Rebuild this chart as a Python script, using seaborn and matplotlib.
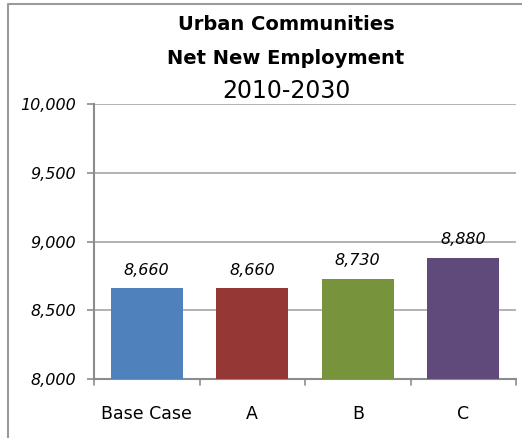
import matplotlib
matplotlib.use("Agg")
import matplotlib.pyplot as plt
import seaborn as sns
import pandas as pd

scenarios = ["Base Case", "A", "B", "C"]
employment = [8660, 8660, 8730, 8880]
bar_colors = ["#4F81BD", "#953735", "#77933C", "#604A7B"]
y_ticks = [8000, 8500, 9000, 9500, 10000]

df = pd.DataFrame({"scenario": scenarios, "employment": employment})

sns.set_theme(style="white")
plt.rcParams["font.family"] = ["DejaVu Sans"]
plt.rcParams["text.color"] = "black"
plt.rcParams["xtick.color"] = "black"
plt.rcParams["ytick.color"] = "black"

W, H = 522, 438
fig = plt.figure(figsize=(W / 100, H / 100), dpi=100)
ax_h = 379 - 104
ax = fig.add_axes([94 / W, 1 - 379 / H, (516 - 94) / W, ax_h / H])

sns.barplot(data=df, x="scenario", y="employment", hue="scenario",
            palette=bar_colors, legend=False, width=0.68, saturation=1,
            linewidth=0, ax=ax, zorder=3)

ax.set_ylim(8000, 10000)
ax.set_xlim(-0.5, len(scenarios) - 0.5)
ax.set_yticks(y_ticks)
ax.set_yticklabels([f"{v:,}" for v in y_ticks], fontsize=11.5, style="italic")
ax.set_xticks(range(len(scenarios)))
ax.set_xticklabels(scenarios, fontsize=12.5)
ax.set_xlabel("")
ax.set_ylabel("")

grid_color = "#A6A6A6"
axis_color = "#8C8C8C"
ax.yaxis.grid(True, color=grid_color, linewidth=1.2, zorder=0)
for side in ["top", "right"]:
    ax.spines[side].set_visible(False)
for side in ["left", "bottom"]:
    ax.spines[side].set_color(axis_color)
    ax.spines[side].set_linewidth(1.5)

ax.tick_params(axis="y", length=5, width=1.2, color=axis_color, pad=8,
               direction="out", left=True)
ax.tick_params(axis="x", length=0, pad=19)

# category separators on the x axis
tick_len = 6 / ax_h
for b in [-0.5, 0.5, 1.5, 2.5, 3.5]:
    ax.plot([b, b], [0, -tick_len], transform=ax.get_xaxis_transform(),
            color=axis_color, lw=1.2, clip_on=False)

for i, v in enumerate(employment):
    ax.annotate(f"{v:,}", (i, v), xytext=(0, 13), textcoords="offset points",
                ha="center", va="center", fontsize=11.5, style="italic")

# title block
fig.text(286 / W, 1 - 24 / H, "Urban Communities", ha="center", va="center",
         fontsize=14, fontweight="bold")
fig.text(286 / W, 1 - 58 / H, "Net New Employment", ha="center", va="center",
         fontsize=14, fontweight="bold")
fig.text(286 / W, 1 - 91 / H, "2010-2030", ha="center", va="center",
         fontsize=17)

# chart frame
frame = plt.Line2D([8 / W, 8 / W, 1.0], [0, 1 - 4 / H, 1 - 4 / H],
                   transform=fig.transFigure, color="#9A9A9A", lw=1.5)
fig.add_artist(frame)

fig.savefig("out.png", dpi=100)
